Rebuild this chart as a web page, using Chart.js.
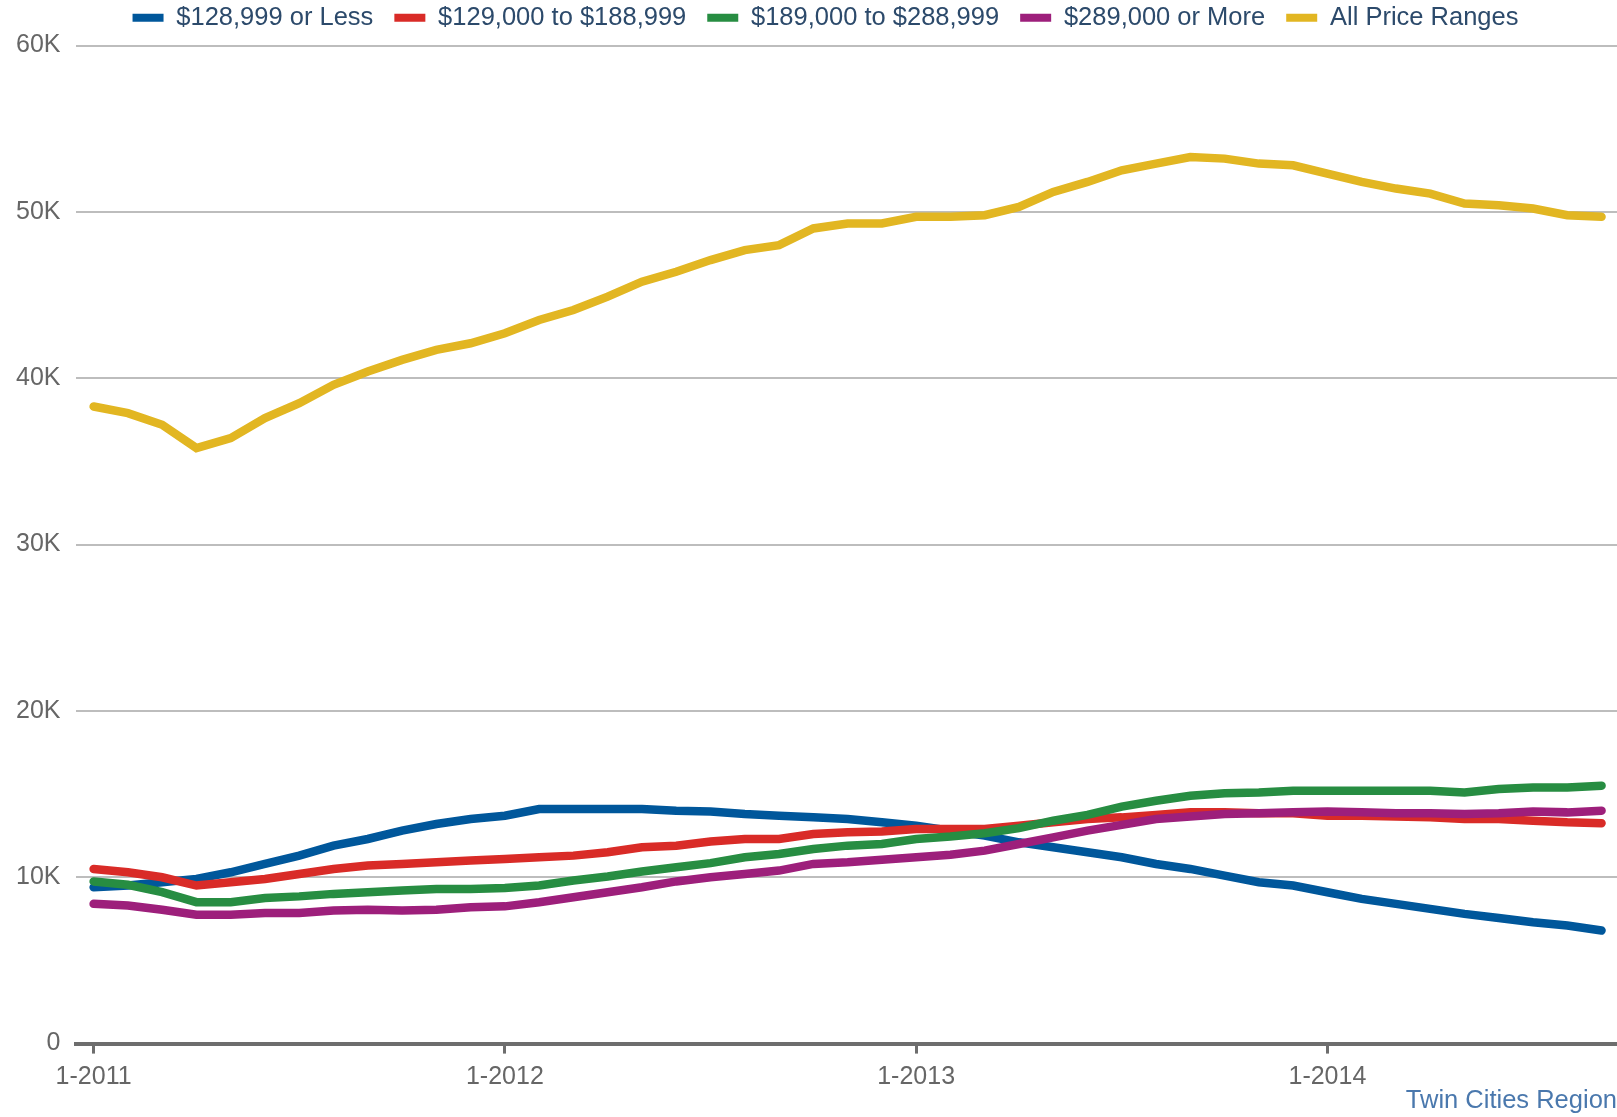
<!DOCTYPE html>
<html>
<head>
<meta charset="utf-8">
<title>Twin Cities Region</title>
<script src="https://cdn.jsdelivr.net/npm/chart.js"></script>
<style>
  html, body { margin: 0; padding: 0; background: #fff; }
  #wrap { width: 1617px; height: 1117px; }
</style>
</head>
<body>
<div id="wrap"><canvas id="chart"></canvas></div>
<script>
// month index 0 = 1-2011 ... 44 = 9-2014
const xTickMonths = [0, 12, 24, 36];
const xTickLabels = ['1-2011', '1-2012', '1-2013', '1-2014'];
const yTicks = [0, 10, 20, 30, 40, 50, 60];

const seriesNames = ['$128,999 or Less', '$129,000 to $188,999', '$189,000 to $288,999', '$289,000 or More', 'All Price Ranges'];
const seriesColors = ['#00579b', '#d92b27', '#278d42', '#9d1f7b', '#e2b622'];

// values in thousands
const under129 = [9.4, 9.5, 9.7, 9.9, 10.3, 10.8, 11.3, 11.9, 12.3, 12.8, 13.2, 13.5, 13.7, 14.1, 14.1, 14.1, 14.1, 14.0, 13.95, 13.8, 13.7, 13.6, 13.5, 13.3, 13.1, 12.8, 12.5, 12.1, 11.8, 11.5, 11.2, 10.8, 10.5, 10.1, 9.7, 9.5, 9.1, 8.7, 8.4, 8.1, 7.8, 7.55, 7.3, 7.1, 6.8];
const from129to188 = [10.5, 10.3, 10.0, 9.5, 9.7, 9.9, 10.2, 10.5, 10.7, 10.8, 10.9, 11.0, 11.1, 11.2, 11.3, 11.5, 11.8, 11.9, 12.15, 12.3, 12.3, 12.6, 12.7, 12.75, 12.9, 12.9, 12.9, 13.1, 13.3, 13.5, 13.6, 13.75, 13.9, 13.9, 13.85, 13.85, 13.7, 13.7, 13.65, 13.6, 13.5, 13.5, 13.4, 13.3, 13.25];
const from189to288 = [9.75, 9.55, 9.1, 8.5, 8.5, 8.75, 8.85, 9.0, 9.1, 9.2, 9.3, 9.3, 9.35, 9.5, 9.8, 10.05, 10.35, 10.6, 10.85, 11.2, 11.4, 11.7, 11.9, 12.0, 12.3, 12.45, 12.65, 12.95, 13.4, 13.75, 14.25, 14.6, 14.9, 15.05, 15.1, 15.2, 15.2, 15.2, 15.2, 15.2, 15.1, 15.3, 15.4, 15.4, 15.5];
const over289 = [8.4, 8.3, 8.05, 7.75, 7.75, 7.85, 7.85, 8.0, 8.05, 8.0, 8.05, 8.2, 8.25, 8.5, 8.8, 9.1, 9.4, 9.75, 10.0, 10.2, 10.4, 10.8, 10.9, 11.05, 11.2, 11.35, 11.6, 12.0, 12.4, 12.8, 13.15, 13.5, 13.65, 13.8, 13.85, 13.9, 13.95, 13.9, 13.85, 13.85, 13.8, 13.85, 13.95, 13.9, 14.0];
const allRanges = [38.3, 37.9, 37.2, 35.8, 36.4, 37.6, 38.5, 39.6, 40.4, 41.1, 41.7, 42.1, 42.7, 43.5, 44.1, 44.9, 45.8, 46.4, 47.1, 47.7, 48.0, 49.0, 49.3, 49.3, 49.7, 49.7, 49.8, 50.3, 51.2, 51.8, 52.5, 52.9, 53.3, 53.2, 52.9, 52.8, 52.3, 51.8, 51.4, 51.1, 50.5, 50.4, 50.2, 49.8, 49.7];

const seriesValues = [under129, from129to188, from189to288, over289, allRanges];

Chart.defaults.font.family = "'Liberation Sans', Arial, Helvetica, sans-serif";

const datasets = seriesValues.map((vals, i) => ({
  label: seriesNames[i],
  data: vals.map((v, m) => ({ x: m, y: v })),
  borderColor: seriesColors[i],
  backgroundColor: seriesColors[i],
  borderWidth: 8.5,
  borderCapStyle: 'round',
  pointRadius: 0,
  tension: 0,
  order: seriesValues.length - i  // later series drawn on top
}));

// legend tweaks: a bit more room under it, and nudge it right like the original
const legendTweak = {
  id: 'legendTweak',
  beforeInit(chart) {
    const legend = chart.legend;
    const fit = legend.fit;
    legend.fit = function () {
      fit.call(this);
      this.height += 5;
    };
    const draw = legend.draw;
    legend.draw = function () {
      this.ctx.save();
      this.ctx.translate(17, 0);
      draw.call(this);
      this.ctx.restore();
    };
  }
};

new Chart(document.getElementById('chart'), {
  type: 'line',
  data: { datasets },
  plugins: [legendTweak],
  options: {
    responsive: true,
    maintainAspectRatio: false,
    animation: false,
    layout: { padding: { top: -16, left: 0, right: 0, bottom: 0.7 } },
    plugins: {
      tooltip: { enabled: false },
      legend: {
        position: 'top',
        labels: {
          boxWidth: 31,
          boxHeight: 8,
          padding: 21,
          color: '#2c4a6b',
          font: { size: 25.5 },
          sort: (a, b) => a.datasetIndex - b.datasetIndex,
          generateLabels: chart =>
            Chart.defaults.plugins.legend.labels.generateLabels(chart).map(l => ({ ...l, lineWidth: 0 }))
        }
      },
      title: {
        display: true,
        text: 'Twin Cities Region',
        position: 'bottom',
        align: 'end',
        color: '#4a78ad',
        font: { size: 25.5, weight: 'normal', lineHeight: 1.2 },
        padding: { top: -14.9, bottom: 0 }
      }
    },
    scales: {
      x: {
        type: 'linear',
        min: -0.5,
        max: 44.45,
        afterBuildTicks: scale => { scale.ticks = xTickMonths.map(v => ({ value: v })); },
        ticks: {
          autoSkip: false,
          maxRotation: 0,
          color: '#666',
          font: { size: 25, lineHeight: 1.0 },
          padding: 11,
          callback: (v, i) => xTickLabels[i]
        },
        grid: { drawOnChartArea: false, drawTicks: true, tickLength: 10, color: '#6d6d6d', lineWidth: 3 },
        border: { display: true, color: '#6d6d6d', width: 4 }
      },
      y: {
        min: 0,
        max: 60,
        afterBuildTicks: scale => { scale.ticks = yTicks.map(v => ({ value: v })); },
        ticks: {
          color: '#666',
          font: { size: 25 },
          padding: 16,
          callback: v => (v === 0 ? '0' : v + 'K')
        },
        grid: {
          drawTicks: false,
          lineWidth: 2,
          color: ctx => (ctx.tick && ctx.tick.value === 0 ? 'rgba(0,0,0,0)' : '#bdbdbd')
        },
        border: { display: false }
      }
    }
  }
});
</script>
</body>
</html>
